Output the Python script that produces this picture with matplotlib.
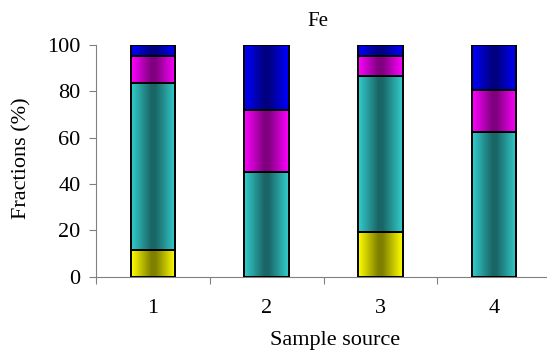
import numpy as np
import matplotlib.pyplot as plt
from matplotlib.colors import LinearSegmentedColormap

plt.rcParams["font.family"] = ["Liberation Serif", "DejaVu Serif"]

samples = ["1", "2", "3", "4"]
yellow = [11.5, 0.0, 19.3, 0.0]
teal = [72.0, 45.1, 67.5, 62.6]
magenta = [11.9, 26.8, 8.6, 18.0]
blue = [4.6, 28.1, 4.6, 19.4]

# (light edge, dark middle) per layer
layers = [
    (yellow, "#ffff00", "#808000"),
    (teal, "#33cccc", "#1a6666"),
    (magenta, "#ff00ff", "#800080"),
    (blue, "#0000ff", "#000080"),
]


def gradient_fill(ax, patch, light, dark):
    x0, y0 = patch.get_x(), patch.get_y()
    w, h = patch.get_width(), patch.get_height()
    if h <= 0:
        return
    cmap = LinearSegmentedColormap.from_list(
        "g", [(0, light), (0.45, dark), (0.55, dark), (1, light)])
    prof = np.linspace(0, 1, 64).reshape(1, -1)
    im = ax.imshow(prof, cmap=cmap, aspect="auto", extent=(x0, x0 + w, y0, y0 + h),
                   origin="lower", zorder=2, interpolation="bilinear")
    im.set_clip_path(patch)


def main():
    fig = plt.figure(figsize=(5.47, 3.58), dpi=100)
    ax = fig.add_axes([96 / 547, 0.227, 455 / 547, 0.647])

    x = np.arange(1, len(samples) + 1)
    bottom = np.zeros(len(samples))
    for vals, light, dark in layers:
        bars = ax.bar(x, vals, width=0.39, bottom=bottom, facecolor="none",
                      edgecolor="black", linewidth=1.4, zorder=3)
        for p in bars.patches:
            gradient_fill(ax, p, light, dark)
        bottom += np.array(vals)

    ax.set_xlim(0.5, 4.5)
    ax.set_ylim(0, 100)
    ax.set_yticks([0, 20, 40, 60, 80, 100])
    ax.set_xticks([0.5, 1.5, 2.5, 3.5, 4.5])
    ax.set_xticklabels([])
    ax.set_xticks(x, minor=True)
    ax.set_xticklabels(samples, minor=True)
    ax.tick_params(axis="x", which="minor", length=0, pad=16, labelsize=16)
    ax.tick_params(axis="x", which="major", length=5, color="#808080")
    ax.tick_params(axis="y", length=5, color="#808080", labelsize=16, pad=6)

    for s in ["top", "right"]:
        ax.spines[s].set_visible(False)
    for s in ["left", "bottom"]:
        ax.spines[s].set_color("#808080")

    fig.text(318 / 547, 1 - 22 / 358, "Fe", fontsize=15, ha="center", va="center")
    fig.text(335 / 547, 1 - 340 / 358, "Sample source", fontsize=16,
             ha="center", va="center")
    fig.text(22 / 547, 1 - 158 / 358, "Fractions (%)", fontsize=16,
             rotation=90, ha="center", va="center")

    fig.savefig("out.png", dpi=100)


if __name__ == "__main__":
    main()
